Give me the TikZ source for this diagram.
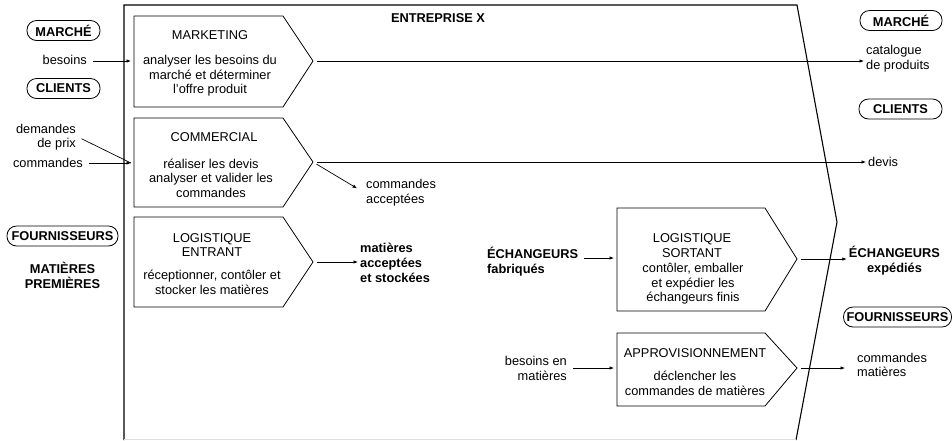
\documentclass[tikz,border=0pt]{standalone}
\usepackage{fontspec}
\setmainfont{Liberation Sans}
\usetikzlibrary{arrows.meta}

\begin{document}
\begin{tikzpicture}[x=1pt,y=-1pt,
    every node/.style={font=\fontsize{12.8}{14.5}\selectfont,inner sep=2pt},
    heavy/.style={font=\fontsize{12.8}{15}\selectfont\bfseries},
    party/.style={draw,line width=.8pt,rounded corners=9.5pt,inner sep=0pt,minimum height=20pt,
                  font=\fontsize{12.8}{15}\selectfont\bfseries},
    proc/.style={draw,line width=.8pt},
    flow/.style={-{Latex[length=4.5pt,width=3.5pt]},line width=.7pt,shorten <=4pt},
    link/.style={line width=.7pt,shorten <=4pt}]

    \useasboundingbox (0,0) rectangle (952,440);

    \draw[line width=1.1pt] (124,440) -- (124,5) -- (797,5) -- (837,222) -- (796,440);
    \draw[gray!25,line width=1pt] (124,439.5) -- (796,439.5);
    \node[heavy] (Entreprise) at (438,18) {ENTREPRISE X};

    \draw[proc] (134,16) -- (283,16) -- (313,61) coordinate (MktTip) -- (283,107) -- (134,107) -- cycle;
    \draw[proc] (134,118) -- (283,118) -- (313,162) coordinate (ComTip) -- (283,207) -- (134,207) -- cycle;
    \draw[proc] (134,217) -- (283,217) -- (313,262) coordinate (EntTip) -- (283,307) -- (134,307) -- cycle;
    \draw[proc] (617,208) -- (765,208) -- (797,259) coordinate (SorTip) -- (765,311) -- (617,311) -- cycle;
    \draw[proc] (617,333) -- (765,333) -- (797,368) coordinate (AppTip) -- (765,406) -- (617,406) -- cycle;

    \coordinate (MktIn) at (131,61);
    \coordinate (ComIn) at (131,163);
    \coordinate (SorIn) at (614,258);
    \coordinate (AppIn) at (614,368);

    \node (MktT) at (210,35) {MARKETING};
    \node[align=center] (Mkt) at (210,76) {analyser les besoins du\\marché et déterminer\\l'offre produit};
    \node (ComT) at (214,137) {COMMERCIAL};
    \node[align=center] (Com) at (211,178) {réaliser les devis\\analyser et valider les\\commandes};
    \node[align=center] (EntT) at (212,245) {LOGISTIQUE\\ENTRANT};
    \node[align=center] (Ent) at (212,282.5) {réceptionner, contôler et\\stocker les matières};
    \node[align=center] (SorT) at (692,245.5) {LOGISTIQUE\\SORTANT};
    \node[align=center] (Sor) at (693,284) {contôler, emballer\\et expédier les\\échangeurs finis};
    \node (AppT) at (695,353) {APPROVISIONNEMENT};
    \node[align=center] (App) at (695,383.5) {déclencher les\\commandes de matières};

    % partenaires
    \node[party,minimum width=73pt] (MarcheG) at (63.5,30.5) {MARCHÉ};
    \node[party,minimum width=73pt] (ClientsG) at (63.5,88.5) {CLIENTS};
    \node[party,minimum width=111pt] (FournG) at (62.5,236) {FOURNISSEURS};
    \node[party,minimum width=82pt] (MarcheD) at (901,20.5) {MARCHÉ};
    \node[party,minimum width=83pt] (ClientsD) at (900.5,109) {CLIENTS};
    \node[party,minimum width=108pt] (FournD) at (897.5,317) {FOURNISSEURS};

    \node[anchor=east] (Besoins) at (89,60) {besoins};
    \node[anchor=east,align=right] (DemPrix) at (78,137) {demandes\\de prix};
    \node[anchor=east] (Cmd) at (85,163) {commandes};
    \node[heavy,align=center] (MatPrem) at (62.5,275) {MATIÈRES\\PREMIÈRES};
    \node[anchor=west,align=left] (Catalogue) at (864,58.5) {catalogue\\de produits};
    \node[anchor=west] (Devis) at (866,162) {devis};
    \node[anchor=west,align=left] (CmdAcc) at (364,192.5) {commandes\\acceptées};
    \node[heavy,anchor=west,align=left] (MatAcc) at (358,263) {matières\\acceptées\\et stockées};
    \node[heavy,anchor=west,align=left] (EchFab) at (485,261.5) {ÉCHANGEURS\\fabriqués};
    \node[anchor=east,align=right] (BesMat) at (569,368.5) {besoins en\\matières};
    \node[heavy,align=center] (EchExp) at (894.5,260.5) {ÉCHANGEURS\\expédiés};
    \node[anchor=west,align=left] (CmdMat) at (855,365) {commandes\\matières};

    \draw[flow] (Besoins.east |- MktIn) -- (MktIn);
    \draw[link] (DemPrix.east) -- (ComIn);
    \draw[flow] (Cmd.east |- ComIn) -- (ComIn);
    \draw[flow] (MktTip) -- (Catalogue.west |- MktTip);
    \draw[flow] (ComTip) -- (Devis.west |- ComTip);
    \draw[flow,shorten >=8pt] (ComTip) -- (CmdAcc.west);
    \draw[flow] (EntTip) -- (MatAcc.west |- EntTip);
    \draw[flow] (EchFab.east |- SorIn) -- (SorIn);
    \draw[flow] (BesMat.east |- AppIn) -- (AppIn);
    \draw[flow] (SorTip) -- (EchExp.west |- SorTip);
    \draw[flow,shorten >=10pt] (AppTip) -- (CmdMat.west |- AppTip);

\end{tikzpicture}
\end{document}
